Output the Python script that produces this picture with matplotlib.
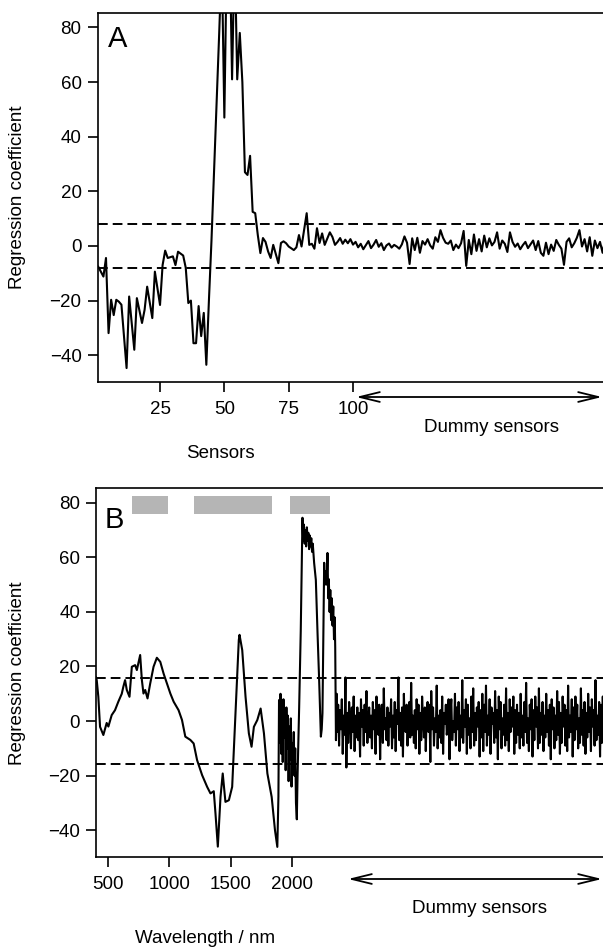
import numpy as np
import matplotlib
matplotlib.use("Agg")
import matplotlib.pyplot as plt
from matplotlib.patches import Rectangle, FancyArrowPatch

plt.rcParams["font.family"] = ["Liberation Sans", "DejaVu Sans"]
plt.rcParams["lines.scale_dashes"] = False

W, H = 603, 947

# ---- panel A: 100 sensors + 100 dummy sensors
sens_a = [1, 3, 4, 5, 6, 7, 8, 9, 10,
          12, 13, 15, 16, 18, 19, 20,
          22, 23, 25, 26, 27, 28,
          30, 31, 32, 34, 35, 36, 37, 38, 39, 40,
          41, 42, 43, 44, 45, 46, 47, 48, 49, 50,
          51, 52, 53, 54, 55, 56, 57, 58, 59, 60,
          61, 62, 63, 64, 65, 66, 67, 68, 69, 70,
          71, 72, 73, 74, 75,
          77, 78, 79, 80,
          82, 83, 84, 85, 86, 87, 88, 89,
          91, 92, 93, 94, 95, 96, 97, 98, 99, 100]
coef_a = [-7.6, -11.2, -4.4, -31.9, -19.7, -25.3, -19.7, -20.4, -21.5,
          -44.7, -18.5, -38, -19.1, -28.2, -23.4, -14.9,
          -26.4, -9.4, -21.6, -7, -1.7, -4.4,
          -3.8, -7, -2.1, -3.5, -8, -20.9, -20, -35.6, -35.6, -22,
          -33, -24.5, -43.5, -20, 2, 27, 52, 78, 105, 47,
          110, 115, 61, 110, 61, 78, 60, 27, 26, 33,
          12.5, 12, 4, -2.6, 2.9, 1.5, -2, -4.4, 0.4, -3,
          -6.3, 1.1, 1.7, 1, -0.2,
          -1.5, -0.5, 4, -0.2,
          12, 0.4, 0.8, -1, 6.5, 1.1, 4.6, 0.4,
          5, 3.3, 0.4, 1.5, 2.9, 0.8, 2.3, 1.0, 2.5, 0.5]
dummy_a = [1.5, -0.5, 0.8, -1.2, 0.3, 1.8, -0.8, 0.5, 2.2, -0.3,
           1.0, -1.5, 0.2, 0.9, -0.6, 0.4, -0.2, -1.0, 0.6, 3.5,
           1.2, -6.6, 2.8, -1.5, 3.0, -2.5, 1.8, 0.5, 2.5, 0.2,
           -1.0, 3.2, 1.5, 5.8, 3.0, 1.2, 0.8, 2.0, -1.5, 0.5,
           -0.8, 1.0, 5.5, -7.3, 2.2, -3.0, 4.2, -1.8, 2.5, -2.0,
           3.8, -0.5, 2.8, 0.2, 1.5, 5.0, -1.0, 2.0, 0.8, -2.2,
           5.0, 1.5, -0.3, 0.9, -1.2, 0.3, 1.5, -0.8, 0.6, 2.0,
           -1.5, 1.8, -2.5, -3.6, 1.2, -3.0, 0.5, -1.8, 2.2, 0.4,
           -1.0, -6.9, 1.5, 2.8, -0.5, 1.0, 3.0, 5.8, -0.2, 2.5,
           -2.0, 3.2, -3.6, 2.0, -0.8, 1.5, -2.5, 2.5, 0.3, 1.0]
limit_a = 8.2
ticks_a = [25, 50, 75, 100]

# ---- panel B: NIR spectrum + dummy sensors
wl_b = [402, 408, 421, 435, 462, 489, 503, 530, 557, 584,
        612, 625, 639, 653, 675, 694, 721, 735, 762, 776,
        789, 803, 822, 844, 871, 898, 926, 953, 980, 1008,
        1035, 1075, 1103, 1130, 1171, 1198, 1226, 1267, 1308, 1335,
        1362, 1376, 1395, 1417, 1435, 1457, 1485, 1512, 1539, 1566,
        1572, 1594, 1621, 1648, 1670, 1689, 1717, 1744, 1771, 1799,
        1834, 1861, 1880, 1889, 1894, 1900, 1906, 1912, 1918, 1924,
        1930, 1936, 1942, 1948, 1954, 1960, 1966, 1972, 1978, 1984,
        1990, 1996, 2002, 2008, 2014, 2020, 2026, 2032, 2039, 2045,
        2058, 2071, 2085, 2091, 2097, 2103, 2109, 2115, 2121, 2127,
        2133, 2139, 2145, 2151, 2157, 2163, 2169, 2180, 2194, 2208,
        2221, 2235, 2242, 2248, 2255, 2262, 2268, 2276, 2282, 2289,
        2295, 2300, 2306, 2312, 2318, 2324, 2330, 2336, 2342, 2348,
        2352, 2358, 2364, 2370]
coef_b = [16, 15, 8.9, -2.1, -5.1, -0.7, -2, 2.2, 4, 7.1,
          10, 12.6, 15, 11.4, 8.9, 19.9, 20.5, 18.7, 24.2, 15,
          10.1, 11.4, 8.3, 13.8, 19.9, 23.2, 21.7, 17.4, 13.8, 10.1,
          7.1, 4, 0.4, -5.7, -6.9, -8.2, -14.3, -19.8, -24.1, -26.5,
          -25.7, -33.9, -46, -27.7, -19.2, -29.6, -29, -24.1, 2.8, 29.7,
          31.6, 26, 8.9, -4.5, -9.4, -2.1, 0.4, 4.6, -4.5, -19.2,
          -27.8, -40, -46.1, -27.7, 7.7, -8, 10, -12, 6, -15,
          8, -6, 3, -18, 5, -10, 2, -22, -2, -14,
          1, -24, -8, -16, -4, -20, -10, -30, -36, -20,
          5, 33, 74.5, 66, 72, 65, 70, 64, 71, 66,
          69, 63, 68, 64, 67, 62, 65, 58, 51.7, 32,
          15, -5.7, -3, 2.9, 30, 58, 50, 55, 50, 61.6,
          45, 52, 40, 48, 37, 45, 35, 42, 30, 38,
          27, -7, 10, -4]
dummy_b = [6, -9, 4, -3, 8, -12, 2, -5, 16, -17,
           3, -8, 7, 1, -10, 5, -4, 9, -11, 2,
           -6, 5, -7, 3, -13, 8, -2, 4, -9, 6,
           -4, 11, -8, 0, 5, -6, 2, -10, 7, -3,
           4, -12, 9, -1, -5, 6, -14, 3, 6, -8,
           12, -3, 1, -7, 5, -9, 3, -2, 8, -10,
           2, -6, 7, -11, 4, -1, 16, -7, 3, -9,
           5, -13, 10, -2, -4, 6, -9, 1, 7, -6,
           14, -5, 2, -8, 4, -10, 8, -3, 6, -12,
           3, -7, 9, 0, -6, 5, -11, 2, 7, -4,
           6, -15, 11, -3, 5, -9, 1, -4, 13, -10,
           2, -6, 4, -8, 9, -12, 3, -1, 6, -5,
           -2, 8, -14, 3, 8, -7, 0, -4, 10, -9,
           5, -3, 7, -11, 2, -6, 15, -8, 4, -2,
           8, -12, 6, -5, 1, -10, 9, -4, 12, -9,
           3, -7, 5, -2, 7, -13, 4, -6, 10, -11,
           6, -4, 13, -9, 2, -5, 8, -12, 5, -1,
           3, -8, 11, -6, 4, -14, 9, -3, 7, -10,
           1, -5, 6, -9, 12, -7, 3, -11, 8, -4,
           5, -2, 9, -12, 4, -8, 6, -5, 3, -10,
           10, -6, 2, -9, 7, -4, 14, -8, 1, -11,
           6, -3, 8, -13, 4, -7, 9, -2, 5, -10,
           12, -8, 3, -5, 7, -11, 2, -6, 10, -4,
           4, -9, 6, -14, 8, -3, 5, -10, 2, -7,
           11, -5, 7, -12, 3, -8, 9, -2, 6, -9,
           4, -11, 13, -6, 2, -4, 8, -13, 5, -7,
           9, -3, 6, -10, 1, -8, 12, -5, 4, -9,
           7, -12, 3, -6, 10, -4, 5, -11, 8, -2,
           4, -9, 15, -7, 2, -5, 7, -13, 6, -8,
           9, -4, 3, -10, 6, -7, 11, -3, 5, -9]
limit_b = 15.8
ticks_b = [500, 1000, 1500, 2000]
bands_b = [(693, 992), (1201, 1834), (1984, 2310)]
band_lo, band_hi = 76, 82.6

YLIM = (-49.8, 85.4)
YTICKS = [-40, -20, 0, 20, 40, 60, 80]
FS = 13.5


def px_axes(fig, left, top, right, bottom):
    return fig.add_axes([left / W, 1 - bottom / H, (right - left) / W, (bottom - top) / H])


def style(ax):
    for sp in ax.spines.values():
        sp.set_linewidth(1.2)
    ax.tick_params(axis="both", direction="out", length=7.5, width=1.2,
                   labelsize=FS, top=False, right=False)
    ax.tick_params(axis="x", pad=6)
    ax.tick_params(axis="y", pad=4)
    ax.set_ylim(*YLIM)
    ax.set_yticks(YTICKS)


def dummy_arrow(fig, x0, x1, y):
    fig.add_artist(FancyArrowPatch(
        (x0 / W, 1 - y / H), (x1 / W, 1 - y / H), transform=fig.transFigure,
        arrowstyle="<->,head_length=0.9,head_width=0.22", mutation_scale=16,
        lw=1.3, color="black", shrinkA=0, shrinkB=0))


fig = plt.figure(figsize=(W / 100, H / 100), dpi=100)

# panel A
axa = px_axes(fig, 97.5, 12.7, 610.3, 382)
xa = np.concatenate([sens_a, np.arange(101, 101 + len(dummy_a))])
ya = np.concatenate([coef_a, dummy_a])
axa.plot(xa, ya, color="black", lw=1.5)
for lim in (limit_a, -limit_a):
    axa.axhline(lim, color="black", lw=1.4, dashes=(7, 3.6))
axa.set_xlim(0.7, 200)
axa.set_xticks(ticks_a)
style(axa)
axa.text(108 / W, 1 - 25 / H, "A", transform=fig.transFigure, fontsize=21,
         ha="left", va="top")

# panel B
axb = px_axes(fig, 96, 488, 611, 857)
xb = np.concatenate([wl_b, np.linspace(2376, 4600, len(dummy_b))])
yb = np.concatenate([coef_b, dummy_b])
axb.plot(xb, yb, color="black", lw=1.5)
for lim in (limit_b, -limit_b):
    axb.axhline(lim, color="black", lw=1.4, dashes=(7, 3.6))
for lo, hi in bands_b:
    axb.add_patch(Rectangle((lo, band_lo), hi - lo, band_hi - band_lo,
                            color="#b5b5b5", lw=0))
axb.set_xlim(402, 4600)
axb.set_xticks(ticks_b)
style(axb)
axb.text(105 / W, 1 - 506 / H, "B", transform=fig.transFigure, fontsize=21,
         ha="left", va="top")

# labels
fig.text(18 / W, 1 - 197 / H, "Regression coefficient", rotation=90,
         ha="center", va="center", fontsize=FS)
fig.text(18 / W, 1 - 673 / H, "Regression coefficient", rotation=90,
         ha="center", va="center", fontsize=FS)
fig.text(220 / W, 1 - 453 / H, "Sensors", ha="center", va="center", fontsize=FS)
fig.text(205 / W, 1 - 938 / H, "Wavelength / nm", ha="center", va="center", fontsize=FS)
fig.text(492 / W, 1 - 427 / H, "Dummy sensors", ha="center", va="center", fontsize=FS)
fig.text(479 / W, 1 - 908 / H, "Dummy sensors", ha="center", va="center", fontsize=FS)

dummy_arrow(fig, 356, 602, 397)
dummy_arrow(fig, 348, 602, 879)

fig.savefig("out.png", dpi=100)
